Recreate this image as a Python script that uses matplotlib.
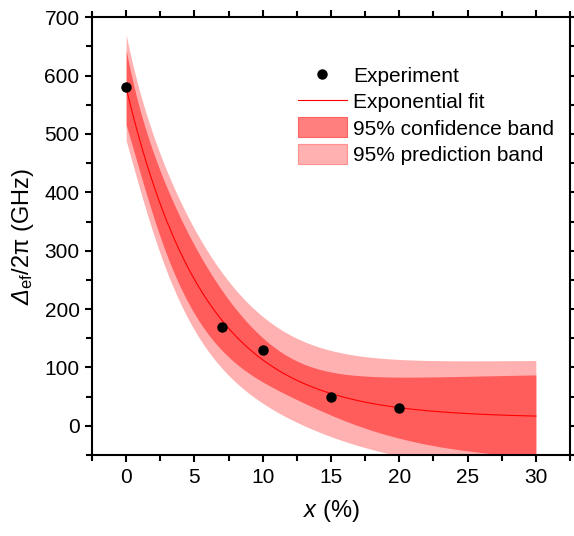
import numpy as np
import matplotlib
matplotlib.use("Agg")
import matplotlib.pyplot as plt
from matplotlib.patches import Patch
from matplotlib.lines import Line2D
from matplotlib.ticker import MultipleLocator

# ---- data ----
x_exp = [0, 7, 10, 15, 20]          # x (%)
y_exp = [580, 170, 130, 50, 30]     # Delta_ef / 2pi (GHz)
x_fit_range = [0, 30]
p0 = [15.0, 565.0, 5.5]              # initial guess: y0, A, t
t_value = 4.30265                    # Student t (0.975, dof=2)

plt.rcParams['font.family'] = ['Liberation Sans', 'DejaVu Sans']
plt.rcParams['mathtext.fontset'] = 'custom'
plt.rcParams['mathtext.rm'] = 'Liberation Sans'
plt.rcParams['mathtext.it'] = 'Liberation Sans:italic'
plt.rcParams['mathtext.sf'] = 'Liberation Sans:italic'
plt.rcParams['mathtext.bf'] = 'Liberation Sans:bold'

xd = np.array(x_exp, float)
yd = np.array(y_exp, float)


def model(p, x):
    y0, A, t = p
    return y0 + A * np.exp(-x / t)


def jac(p, x):
    y0, A, t = p
    e = np.exp(-x / t)
    return np.column_stack([np.ones_like(x), e, A * x / t**2 * e])


# Levenberg-Marquardt exponential fit
p = np.array(p0, float)
lam = 1e-3
for _ in range(500):
    r = yd - model(p, xd)
    J = jac(p, xd)
    JTJ = J.T @ J
    step = np.linalg.solve(JTJ + lam * np.diag(np.diag(JTJ)), J.T @ r)
    pn = p + step
    if np.sum((yd - model(pn, xd))**2) < np.sum(r**2):
        p = pn
        lam *= 0.3
    else:
        lam *= 10

dof = len(xd) - len(p)
ssr = np.sum((yd - model(p, xd))**2)
s2 = ssr / dof
J = jac(p, xd)
cov = s2 * np.linalg.inv(J.T @ J)

xx = np.linspace(x_fit_range[0], x_fit_range[1], 400)
yy = model(p, xx)
Jx = jac(p, xx)
var_fit = np.einsum('ij,jk,ik->i', Jx, cov, Jx)
conf = t_value * np.sqrt(var_fit)
pred = t_value * np.sqrt(var_fit + s2)

fig = plt.figure(figsize=(5.74, 5.36), dpi=100)
ax = fig.add_axes([0.1603, 0.151, 0.8327, 0.817])

pred_col = '#FFB0B0'
conf_col = '#FF5C5C'
ax.fill_between(xx, yy - pred, yy + pred, color=pred_col, lw=0, zorder=1)
ax.fill_between(xx, yy - conf, yy + conf, color=conf_col, lw=0, zorder=2)
ax.plot(xx, yy, color='#FF0000', lw=0.8, zorder=3)
ax.plot(xd, yd, 'o', color='black', ms=6.5, zorder=4)

ax.set_xlim(-2.5, 32.5)
ax.set_ylim(-50, 700)
ax.xaxis.set_major_locator(MultipleLocator(5))
ax.xaxis.set_minor_locator(MultipleLocator(2.5))
ax.yaxis.set_major_locator(MultipleLocator(100))
ax.yaxis.set_minor_locator(MultipleLocator(50))
ax.tick_params(which='both', direction='out', top=True, right=True,
               labeltop=False, labelright=False, width=1.5)
ax.tick_params(which='major', length=5, labelsize=15, pad=4)
ax.tick_params(which='minor', length=4)
for s in ax.spines.values():
    s.set_linewidth(1.5)

ax.set_xlabel(r'$x$ (%)', fontsize=17, labelpad=8)
ax.set_ylabel(r'$\mathsf{\Delta}_{\mathrm{ef}}$/2$\mathrm{\pi}$ (GHz)', fontsize=17, labelpad=6)

handles = [
    Line2D([], [], marker='o', color='black', ls='none', ms=6.5),
    Line2D([], [], color='#FF0000', lw=0.8),
    Patch(facecolor='#FF7F7F', edgecolor='#FF6060', lw=0.8),
    Patch(facecolor='#FFB0B0', edgecolor='#FF9090', lw=0.8),
]
labels = ['Experiment', 'Exponential fit', '95% confidence band', '95% prediction band']
ax.legend(handles, labels, loc='upper left', bbox_to_anchor=(0.431, 0.89),
          frameon=False, fontsize=15, handlelength=2.35, handleheight=1.1,
          handletextpad=0.3, labelspacing=0.24, borderpad=0, borderaxespad=0)

fig.savefig('out.png', dpi=100)
